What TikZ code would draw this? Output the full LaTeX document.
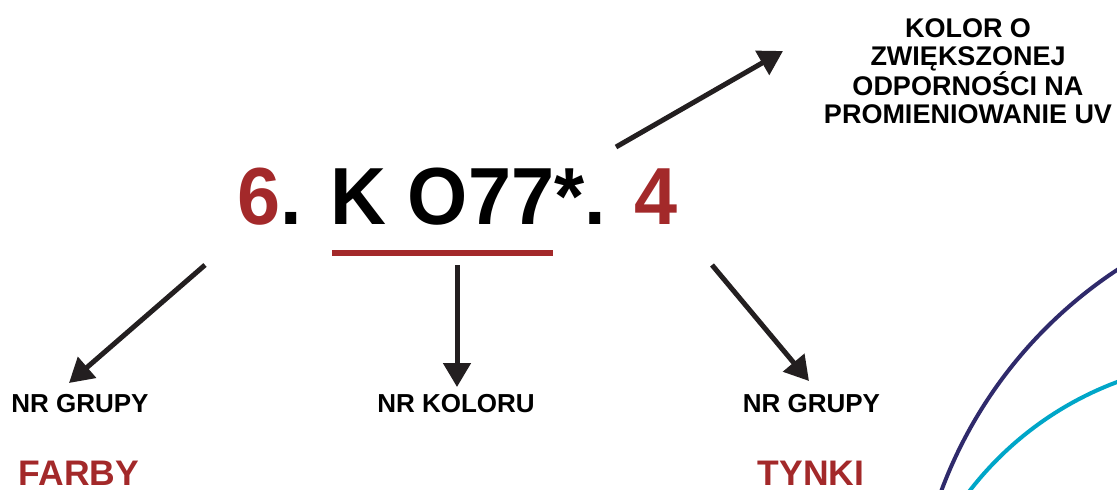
\documentclass[tikz,border=0pt]{standalone}
\usepackage{fontspec}
\setmainfont{Liberation Sans}
\usetikzlibrary{arrows.meta}
\definecolor{codered}{HTML}{A3292A}
\definecolor{arrowblack}{HTML}{231F20}
\definecolor{arcindigo}{HTML}{2F2A6B}
\definecolor{arccyan}{HTML}{00A6C8}
\tikzset{
  pointer/.style={draw=arrowblack, line width=5pt, -{Triangle[length=24pt,width=27pt]}},
  label/.style={inner sep=0pt, anchor=base, font=\fontsize{26}{28}\selectfont\bfseries},
  category/.style={inner sep=0pt, anchor=base, text=codered, font=\fontsize{35.5}{40}\selectfont\bfseries},
}
\begin{document}
\begin{tikzpicture}[x=1pt,y=-1pt]
\useasboundingbox (0,0) rectangle (1117,490);
% decorative arcs
\begin{scope}
\clip (0,0) rectangle (1117,490);
\draw[arcindigo, line width=4pt] (1367,649) circle (454);
\draw[arccyan, line width=4pt] (1234,695) circle (334);
\end{scope}
% code
\node[inner sep=0pt, anchor=base, font=\fontsize{81}{90}\selectfont\bfseries] (code) at (457.5,224)
  {\scalebox{0.956}[1]{\textcolor{codered}{6}. K O77*. \textcolor{codered}{4}}};
\fill[codered] (332,250) rectangle (553,255.5);
% labels
\node[label] (grupyL) at (80,412) {NR GRUPY};
\node[label] (kolor) at (456,412) {NR KOLORU};
\node[label] (grupyR) at (811.5,412) {NR GRUPY};
\node[category] (farby) at (79,485) {FARBY};
\node[category] (tynki) at (811,485) {TYNKI};
\node[inner sep=0pt, anchor=north, align=center, font=\fontsize{27}{28}\selectfont\bfseries] (uv) at (968,18)
  {KOLOR O\\ZWIĘKSZONEJ\\ODPORNOŚCI NA\\PROMIENIOWANIE UV};
% connector ends
\coordinate (sL) at (205,265);
\coordinate (eL) at (69,383);
\coordinate (sM) at (457,265);
\coordinate (eM) at (457,387);
\coordinate (sR) at (712,265);
\coordinate (eR) at (809,381);
\coordinate (sT) at (616,147);
\coordinate (eT) at (783,51);
\draw[pointer] (sL) -- (eL);
\draw[pointer] (sM) -- (eM);
\draw[pointer] (sR) -- (eR);
\draw[pointer] (sT) -- (eT);
\end{tikzpicture}
\end{document}
